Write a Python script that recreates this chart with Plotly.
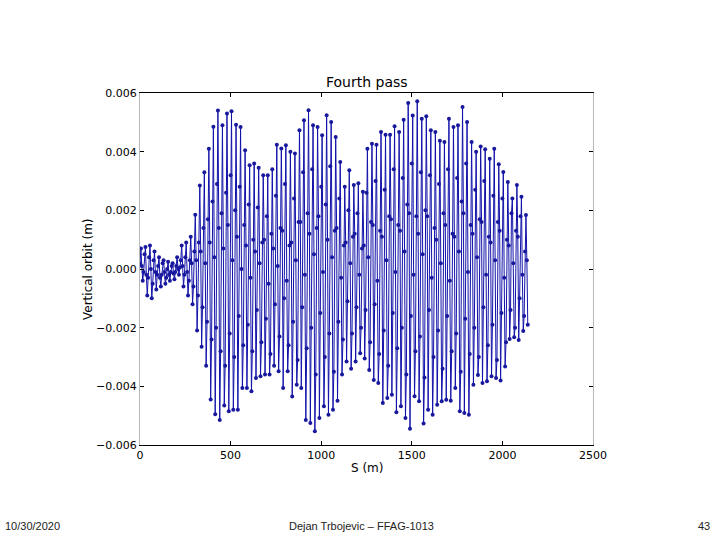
import numpy as np
import plotly.graph_objects as go

S_STEP = 5.0
orbit_mm = [
    0.2, 0.7, 0.1, -0.4, -0.1,
    0.5, 0.75, -0.2, -0.9, -0.3,
    0.4, 0.8, 0.0, -1.0, -0.5,
    0.3, 0.6, -0.1, -0.7, -0.2,
    0.1, 0.4, -0.3, -0.6, -0.2,
    0.2, 0.3, -0.1, -0.5, -0.3,
    0.0, 0.25, -0.2, -0.4, -0.1,
    0.1, 0.2, -0.15, -0.35, -0.1,
    0.1, 0.4, 0.0, -0.2, 0.05,
    0.3, 0.8, 0.1, -0.6, -0.2,
    0.4, 0.9, -0.1, -0.9, -0.4,
    0.3, 1.1, 0.2, -1.2, -0.6,
    0.6, 1.85, 0.3, -2.1, -0.9,
    0.9, 2.85, 0.6, -2.65, -1.3,
    1.4, 3.3, 0.2, -3.3, -1.8,
    1.7, 4.1, 0.9, -4.45, -2.4,
    2.3, 4.85, 0.4, -4.95, -2.0,
    2.9, 5.4, 1.4, -5.15, -2.8,
    1.9, 4.9, 0.7, -4.65, -3.3,
    2.6, 5.3, 1.5, -4.85, -2.2,
    3.2, 5.38, 0.3, -4.8, -3.0,
    2.0, 4.92, 1.1, -4.8, -1.6,
    2.8, 4.84, 0.0, -4.06, -2.6,
    1.5, 4.05, 0.8, -4.06, -1.9,
    2.2, 3.54, -0.3, -4.17, -2.8,
    1.0, 3.6, 0.6, -3.72, -1.4,
    2.1, 3.45, 0.2, -3.66, -2.5,
    0.9, 3.2, 1.0, -3.6, -1.7,
    1.8, 3.2, -0.5, -3.6, -2.9,
    1.2, 3.4, 0.7, -3.3, -1.2,
    2.5, 4.24, 0.1, -3.49, -2.3,
    1.4, 4.11, 1.3, -4.06, -1.0,
    2.9, 4.22, -0.4, -3.49, -2.6,
    0.8, 4.0, 0.9, -4.35, -1.8,
    2.4, 3.94, 0.3, -3.95, -3.1,
    1.6, 4.73, 1.6, -4.06, -1.3,
    3.3, 5.07, -0.2, -5.15, -2.7,
    1.9, 5.41, 1.2, -5.25, -2.0,
    3.4, 4.9, 0.5, -5.53, -3.6,
    1.4, 4.84, 1.8, -5.08, -1.5,
    2.8, 4.56, -0.1, -4.68, -3.0,
    2.2, 5.24, 1.0, -4.97, -2.2,
    3.5, 5.01, 0.4, -4.8, -3.5,
    1.3, 4.5, 1.4, -4.49, -1.8,
    2.4, 3.65, -0.3, -3.6, -2.4,
    0.8, 2.8, 0.9, -3.15, -1.1,
    2.0, 3.37, 0.2, -3.4, -2.2,
    1.1, 2.86, 1.2, -3.15, -1.3,
    1.9, 2.92, -0.2, -2.87, -2.0,
    0.7, 2.63, 0.8, -3.05, -1.4,
    2.6, 4.1, 0.4, -3.44, -2.5,
    1.6, 4.27, 1.5, -3.78, -1.2,
    3.0, 4.24, -0.4, -3.89, -2.9,
    1.3, 4.67, 1.1, -4.57, -2.1,
    2.7, 4.58, 0.3, -4.4, -3.3,
    1.8, 4.58, 1.7, -4.29, -1.5,
    3.4, 4.87, -0.1, -4.88, -2.7,
    1.5, 4.67, 1.3, -4.68, -2.0,
    3.1, 5.09, 0.6, -5.08, -3.6,
    2.2, 5.66, 1.9, -5.45, -1.6,
    3.6, 5.23, -0.2, -4.34, -2.8,
    1.8, 5.72, 1.2, -4.51, -2.3,
    3.3, 5.12, 0.5, -5.27, -3.7,
    2.0, 5.21, 1.8, -4.8, -1.4,
    3.2, 4.73, -0.3, -4.97, -3.0,
    1.4, 4.67, 1.0, -4.63, -2.1,
    2.9, 4.37, 0.2, -4.51, -3.4,
    1.9, 4.33, 1.5, -4.46, -1.6,
    3.4, 5.12, -0.4, -4.49, -2.8,
    1.2, 4.84, 1.1, -4.06, -2.2,
    3.1, 4.9, 0.6, -4.85, -3.5,
    2.3, 5.52, 1.9, -4.91, -1.7,
    3.6, 5.01, -0.1, -4.97, -2.9,
    1.5, 4.33, 1.2, -3.95, -2.0,
    2.7, 4.0, 0.4, -3.61, -3.0,
    1.7, 4.18, 1.6, -3.89, -1.3,
    3.0, 4.08, -0.2, -3.83, -2.6,
    1.1, 3.76, 0.9, -3.66, -1.9,
    2.5, 4.1, 0.3, -3.72, -3.1,
    1.6, 3.57, 1.3, -3.8, -1.5,
    2.4, 3.31, -0.3, -3.32, -2.5,
    1.0, 2.97, 0.8, -2.39, -1.4,
    1.9, 2.4, 0.2, -2.33, -2.0,
    1.3, 2.86, 1.1, -2.42, -1.0,
    1.8, 2.46, -0.2, -2.11, -1.6,
    0.6, 1.84, 0.3, -1.9,
]

x_ticks = [0, 500, 1000, 1500, 2000, 2500]
y_ticks = [-0.006, -0.004, -0.002, 0.0, 0.002, 0.004, 0.006]

title_text = "Fourth pass"
x_label = "S (m)"
y_label = "Vertical orbit (m)"
footer_left = "10/30/2020"
footer_mid = "Dejan Trbojevic – FFAG-1013"
footer_right = "43"

s = np.arange(len(orbit_mm)) * S_STEP
y = np.array(orbit_mm) / 1000.0

fig = go.Figure()
fig.add_trace(go.Scatter(
    x=s, y=y, mode="lines+markers",
    line=dict(color="#1212aa", width=1),
    marker=dict(color="#18189e", size=4),
    showlegend=False,
))

font_mpl = "DejaVu Sans"
font_foot = "Liberation Sans Narrow, Liberation Sans, Arial"
fig.update_layout(
    width=720, height=540,
    margin=dict(l=140, r=127, t=93, b=95),
    paper_bgcolor="white", plot_bgcolor="white",
    font=dict(family=font_mpl, size=11, color="black"),
    xaxis=dict(
        range=[0, 2500], tickvals=x_ticks, ticktext=[str(v) for v in x_ticks],
        ticks="inside", ticklen=4, tickcolor="black", mirror="ticks",
        showline=True, linecolor="black", linewidth=1,
        showgrid=False, zeroline=False,
        tickfont=dict(family=font_mpl, size=11),
    ),
    yaxis=dict(
        range=[-0.006, 0.006], tickvals=y_ticks, tickformat=".3f",
        ticks="inside", ticklen=4, tickcolor="black", mirror="ticks",
        showline=True, linecolor="#b8b8b8", linewidth=1,
        showgrid=False, zeroline=False,
        tickfont=dict(family=font_mpl, size=11),
    ),
    annotations=[
        dict(text=title_text, xref="paper", yref="paper", x=0.5, y=1,
             xanchor="center", yanchor="bottom", yshift=1, showarrow=False,
             font=dict(family=font_mpl, size=14, color="black")),
        dict(text=x_label, xref="paper", yref="paper", x=0.5, y=0,
             xanchor="center", yanchor="top", yshift=-14, showarrow=False,
             font=dict(family=font_mpl, size=12, color="black")),
        dict(text=y_label, xref="paper", yref="paper", x=0, y=0.5,
             xanchor="center", yanchor="middle", xshift=-52, textangle=-90,
             showarrow=False, font=dict(family=font_mpl, size=12, color="black")),
        dict(text=footer_left, xref="paper", yref="paper", x=0, y=0,
             xanchor="left", yanchor="middle", xshift=-137, yshift=-81,
             showarrow=False, font=dict(family=font_foot, size=11, color="#222")),
        dict(text=footer_mid, xref="paper", yref="paper", x=0.5, y=0,
             xanchor="center", yanchor="middle", xshift=-5, yshift=-81,
             showarrow=False, font=dict(family=font_foot, size=11, color="#222")),
        dict(text=footer_right, xref="paper", yref="paper", x=1, y=0,
             xanchor="right", yanchor="middle", xshift=119, yshift=-81,
             showarrow=False, font=dict(family=font_foot, size=11, color="#222")),
    ],
)

fig.write_html("out.html", config={"displayModeBar": False},
               post_script="document.body.style.margin='0';")
